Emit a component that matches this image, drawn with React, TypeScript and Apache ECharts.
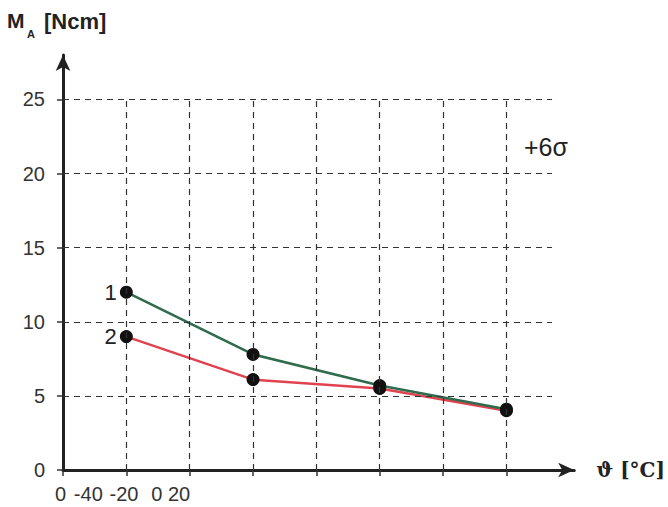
import { useEffect, useRef } from "react";
import * as echarts from "echarts";

const xPoints = [1, 3, 5, 7];
const curve1 = [12, 7.8, 5.7, 4.1];
const curve2 = [9, 6.1, 5.5, 4.0];
const curveNames = ["1", "2"];
const yTicks = [0, 5, 10, 15, 20, 25];
const xTicks = [0, 1, 2, 3, 4, 5, 6, 7];
const xGrid = [1, 2, 3, 4, 5, 6, 7];
const xTickLabels = ["0", "-40", "-20", "0", "20"];

const FONT = "Liberation Sans, Arial, sans-serif";
const INK = "#222";

export default function App() {
  const ref = useRef<HTMLDivElement | null>(null);

  useEffect(() => {
    if (!ref.current) return;
    const chart = echarts.init(ref.current, null, { renderer: "svg" });

    const gridLines = [
      ...yTicks.filter((v) => v > 0).map((v) => [{ coord: [0, v] }, { coord: [7.72, v] }]),
      ...xGrid.map((x) => [{ coord: [x, 0] }, { coord: [x, 25] }]),
    ];

    const firstLabel = (name: string) => ({
      show: true,
      position: "left",
      distance: 3,
      formatter: name,
      fontSize: 22,
      fontFamily: FONT,
      color: INK,
    });

    const makeData = (vals: number[], name: string) =>
      xPoints.map((x, i) => (i === 0 ? { value: [x, vals[i]], label: firstLabel(name) } : [x, vals[i]]));

    // hand-placed positions of the odd tick labels under the x axis
    const labelX = [60.5, 88.3, 124, 156.7, 179];

    chart.setOption({
      animation: false,
      grid: { left: 63, right: 86, top: 55, bottom: 37 },
      xAxis: {
        type: "value",
        min: 0,
        max: 8.07,
        interval: 1,
        name: "ϑ [°C]",
        nameLocation: "end",
        nameGap: 22,
        nameTextStyle: { fontSize: 20, fontWeight: "bold", fontFamily: "DejaVu Serif, serif", color: INK },
        axisLine: {
          show: true,
          symbol: ["none", "arrow"],
          symbolSize: [11, 16],
          lineStyle: { color: INK, width: 3 },
        },
        axisTick: { show: true, customValues: xTicks, length: 6, lineStyle: { color: "#333", width: 1.5 } },
        axisLabel: { show: false },
        splitLine: { show: false },
      },
      yAxis: {
        type: "value",
        min: 0,
        max: 28,
        interval: 5,
        axisLine: {
          show: true,
          symbol: ["none", "arrow"],
          symbolSize: [11, 16],
          lineStyle: { color: INK, width: 3 },
        },
        axisTick: { show: true, customValues: yTicks, length: 6, lineStyle: { color: "#333", width: 1.5 } },
        axisLabel: { customValues: yTicks, fontSize: 20, fontFamily: FONT, color: "#333", margin: 18 },
        splitLine: { show: false },
      },
      graphic: [
        { type: "text", left: 7, top: 10, style: { text: "M", fontSize: 21, fontWeight: "bold", fontFamily: FONT, fill: INK } },
        { type: "text", left: 27, top: 28, style: { text: "A", fontSize: 11, fontWeight: "bold", fontFamily: FONT, fill: INK } },
        { type: "text", left: 44, top: 10, style: { text: "[Ncm]", fontSize: 22, fontWeight: "bold", fontFamily: FONT, fill: INK } },
        { type: "text", left: 524, top: 134, style: { text: "+6σ", fontSize: 25, fontFamily: FONT, fill: INK } },
        ...xTickLabels.map((t, i) => ({
          type: "text",
          x: labelX[i],
          y: 484,
          style: { text: t, fontSize: 20, fontFamily: FONT, fill: "#333", align: "center", verticalAlign: "top" },
        })),
      ],
      series: [
        {
          type: "line",
          data: [[0, 0]],
          showSymbol: false,
          lineStyle: { opacity: 0 },
          z: 1,
          silent: true,
          markLine: {
            silent: true,
            symbol: ["none", "none"],
            label: { show: false },
            lineStyle: { color: "#333", width: 1.2, type: [6, 5] },
            data: gridLines,
          },
        },
        {
          name: curveNames[1],
          type: "line",
          z: 3,
          data: makeData(curve2, curveNames[1]),
          symbol: "circle",
          symbolSize: 13,
          itemStyle: { color: "#111" },
          lineStyle: { color: "#e0434f", width: 2.5 },
        },
        {
          name: curveNames[0],
          type: "line",
          z: 4,
          data: makeData(curve1, curveNames[0]),
          symbol: "circle",
          symbolSize: 13,
          itemStyle: { color: "#111" },
          lineStyle: { color: "#2f6b4c", width: 2.5 },
        },
      ],
    });

    return () => chart.dispose();
  }, []);

  return <div ref={ref} style={{ position: "fixed", left: 0, top: 0, width: 668, height: 507, background: "#fff" }} />;
}
